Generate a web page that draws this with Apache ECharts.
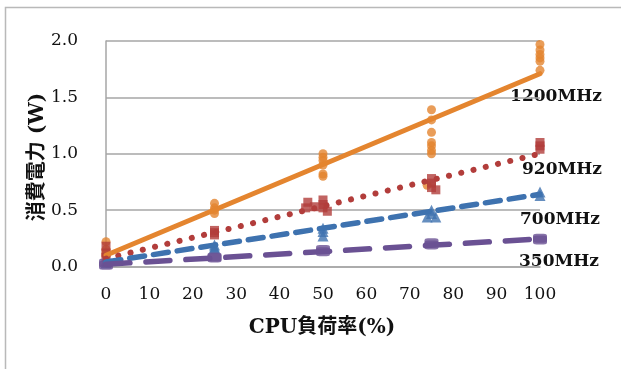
<!DOCTYPE html>
<html>
<head>
<meta charset="utf-8">
<script src="https://cdn.jsdelivr.net/npm/echarts@6/dist/echarts.min.js"></script>
<style>html,body{margin:0;padding:0;background:#fff}#c{width:621px;height:369px}</style>
</head>
<body>
<div id="c"></div>
<script>
// ---- data ----
const seriesNames = ['1200MHz', '920MHz', '700MHz', '350MHz'];
const yTickLabels = ['0.0', '0.5', '1.0', '1.5', '2.0'];
const xTitle = 'CPU負荷率(%)';
const yTitle = '消費電力 (W)';

const pts1200 = [[0,0.22],[0,0.15],[0,0.12],[0,0.10],[25,0.56],[25,0.52],[25,0.50],[25,0.47],
  [50,1.00],[50,0.97],[50,0.94],[50,0.90],[50,0.82],[50,0.80],
  [75,1.39],[75,1.30],[75,1.19],[75,1.10],[75,1.07],[75,1.03],[75,1.00],[74,0.72],
  [100,1.97],[100,1.92],[100,1.88],[100,1.85],[100,1.82],[100,1.74]];
const pts920 = [[0,0.18],[0,0.12],[0,0.08],[25,0.32],[25,0.30],[25,0.28],
  [46,0.52],[46.5,0.57],[48,0.53],[50,0.59],[50,0.55],[50,0.52],[51,0.49],
  [75,0.78],[75,0.74],[75,0.70],[76,0.68],[100,1.10],[100,1.07],[100,1.04]];
const pts700 = [[0,0.05],[0,0.03],[25,0.19],[25,0.17],[25,0.16],[50,0.34],[50,0.31],[50,0.27],
  [75,0.50],[75,0.47],[74,0.44],[76,0.44],[100,0.66],[100,0.63]];
const pts350 = [[0,0.03],[0,0.01],[25,0.085],[25,0.075],[50,0.15],[50,0.13],
  [75,0.21],[75,0.19],[100,0.25],[100,0.235]];

const trend1200 = [[0,0.10],[100,1.71]];
const trend920  = [[0,0.07],[100,1.00]];
const trend700  = [[0,0.04],[100,0.64]];
const trend350  = [[0,0.02],[100,0.245]];

// ---- styling ----
const colors = ['#E4852F', '#B23D3B', '#3E72AF', '#6A5193'];
const serif = '"DejaVu Serif", "Noto Sans CJK JP", serif';

const chart = echarts.init(document.getElementById('c'), null, {renderer: 'canvas'});

function scatter(name, data, color, symbol, size) {
  return {type: 'scatter', name, data, symbol, symbolSize: size,
    itemStyle: {color}, z: 2, silent: true};
}
function trend(name, data, color, type, width) {
  return {type: 'line', name: name + ' trend', data, showSymbol: false, symbol: 'none',
    lineStyle: {color, width, type, cap: 'round'}, z: 3, silent: true};
}

chart.setOption({
  animation: false,
  grid: {left: 106, right: 81, top: 41, bottom: 102.5, containLabel: false},
  xAxis: {
    type: 'value', min: 0, max: 100, interval: 10,
    axisLine: {show: true, lineStyle: {color: '#a6a6a6', width: 1.5}},
    axisTick: {show: false},
    splitLine: {show: false},
    axisLabel: {color: '#111', fontFamily: serif, fontSize: 17, margin: 20}
  },
  yAxis: {
    type: 'value', min: 0, max: 2, interval: 0.5,
    axisLine: {show: true, lineStyle: {color: '#a6a6a6', width: 1.5}},
    axisTick: {show: false},
    splitLine: {show: true, lineStyle: {color: '#a6a6a6', width: 1.5}},
    axisLabel: {color: '#111', fontFamily: serif, fontSize: 17, margin: 28,
      formatter: (v) => yTickLabels[Math.round(v / 0.5)]}
  },
  series: [
    scatter(seriesNames[0], pts1200, colors[0], 'circle', 9),
    scatter(seriesNames[1], pts920, colors[1], 'rect', 9),
    scatter(seriesNames[2], pts700, colors[2], 'triangle', 11),
    scatter(seriesNames[3], pts350, colors[3], 'roundRect', [14, 9]),
    trend(seriesNames[0], trend1200, colors[0], 'solid', 5),
    trend(seriesNames[1], trend920, colors[1], [0.1, 12.5], 6),
    trend(seriesNames[2], trend700, colors[2], [15, 9], 5.5),
    trend(seriesNames[3], trend350, colors[3], [24, 16], 5.5)
  ],
  graphic: [
    {type: 'polyline', shape: {points: [[5.5, 369], [5.5, 7.5], [621, 7.5]]},
      style: {stroke: '#b9b9b9', lineWidth: 1.5, fill: null}, silent: true},
    {type: 'text', x: 322, y: 328, style: {text: xTitle, fill: '#111', font: 'bold 20px ' + serif,
      textAlign: 'center', textVerticalAlign: 'middle'}},
    {type: 'text', x: 38, y: 157, rotation: Math.PI / 2, style: {text: yTitle, fill: '#111',
      font: 'bold 20px ' + serif, textAlign: 'center', textVerticalAlign: 'middle'}},
    {type: 'text', x: 556, y: 97, style: {text: seriesNames[0], fill: '#111', font: 'bold 17px ' + serif,
      textAlign: 'center', textVerticalAlign: 'middle'}},
    {type: 'text', x: 562, y: 170, style: {text: seriesNames[1], fill: '#111', font: 'bold 17px ' + serif,
      textAlign: 'center', textVerticalAlign: 'middle'}},
    {type: 'text', x: 560, y: 220, style: {text: seriesNames[2], fill: '#111', font: 'bold 17px ' + serif,
      textAlign: 'center', textVerticalAlign: 'middle'}},
    {type: 'text', x: 559, y: 262, style: {text: seriesNames[3], fill: '#111', font: 'bold 17px ' + serif,
      textAlign: 'center', textVerticalAlign: 'middle'}}
  ]
});
</script>
</body>
</html>
